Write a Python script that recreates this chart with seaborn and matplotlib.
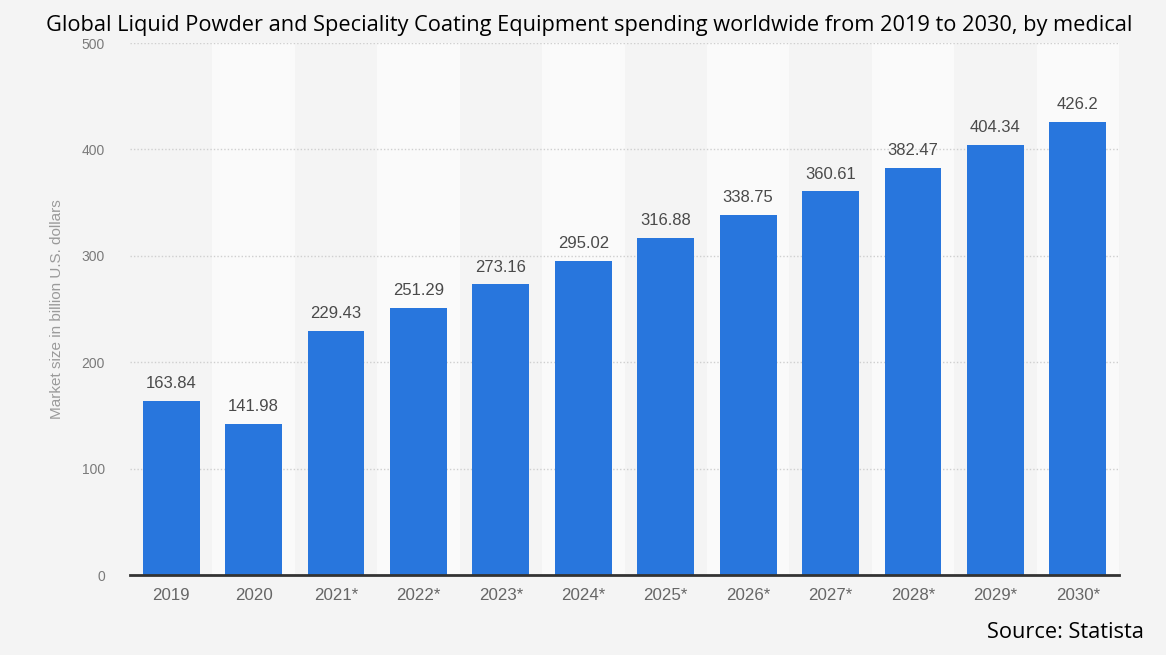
import matplotlib
matplotlib.use("Agg")
import matplotlib.pyplot as plt
import seaborn as sns
import pandas as pd
from matplotlib.patches import Rectangle

years = ["2019", "2020", "2021*", "2022*", "2023*", "2024*", "2025*", "2026*",
         "2027*", "2028*", "2029*", "2030*"]
values = [163.84, 141.98, 229.43, 251.29, 273.16, 295.02, 316.88, 338.75,
          360.61, 382.47, 404.34, 426.2]
labels = ["163.84", "141.98", "229.43", "251.29", "273.16", "295.02", "316.88",
          "338.75", "360.61", "382.47", "404.34", "426.2"]
yticks = [0, 100, 200, 300, 400, 500]

title = "Global Liquid Powder and Speciality Coating Equipment spending worldwide from 2019 to 2030, by medical"
ylabel = "Market size in billion U.S. dollars"
source = "Source: Statista"

sns.set_theme(style="white")
plt.rcParams['font.family'] = ['Liberation Sans', 'DejaVu Sans']

BG = "#f4f4f4"
BAR = "#2876dd"

df = pd.DataFrame({"year": years, "value": values})

fig = plt.figure(figsize=(11.66, 6.62), dpi=100, facecolor=BG)
ax = fig.add_axes([0.1115, 0.1314, 0.8482, 0.8036])
ax.set_facecolor(BG)

for i in range(len(years)):
    if i % 2 == 1:
        ax.axvspan(i - 0.5, i + 0.5, color="#fafafa", zorder=0, lw=0)

sns.barplot(data=df, x="year", y="value", color=BAR, width=0.69, ax=ax,
            saturation=1, zorder=3, linewidth=0, edgecolor=BAR)

ax.bar_label(ax.containers[0], labels=labels, padding=7, fontsize=12,
             color="#4a4a4a", zorder=4)

ax.set_xlim(-0.5, len(years) - 0.5)
ax.set_ylim(0, 500)
ax.set_yticks(yticks)
ax.yaxis.grid(True, linestyle=(0, (1, 1.5)), color="#cfcfcf", linewidth=1, zorder=1)
ax.set_axisbelow(True)

for s in ["top", "right", "left"]:
    ax.spines[s].set_visible(False)
ax.spines["bottom"].set_color("#333333")
ax.spines["bottom"].set_linewidth(2)
ax.spines["bottom"].set_zorder(5)

ax.tick_params(axis="x", length=0, pad=9, labelsize=12.2, labelcolor="#666666")
ax.tick_params(axis="y", length=0, pad=18, labelsize=10, labelcolor="#7a7a7a")
ax.set_xlabel("")
ax.set_ylabel(ylabel, fontsize=11, color="#9a9a9a", labelpad=13)

fig.text(0.505, 0.962, title, ha="center", va="center", fontsize=15.7,
         color="black", family=["Open Sans", "DejaVu Sans"])
fig.text(0.981, 0.045, source, ha="right", va="center", fontsize=15.7,
         color="black", family=["Open Sans", "DejaVu Sans"])

fig.patches.append(Rectangle((0, 0), 1, 7 / 662, transform=fig.transFigure,
                             facecolor="white", edgecolor="none", zorder=10))

fig.savefig("out.png", dpi=100, facecolor=BG)
